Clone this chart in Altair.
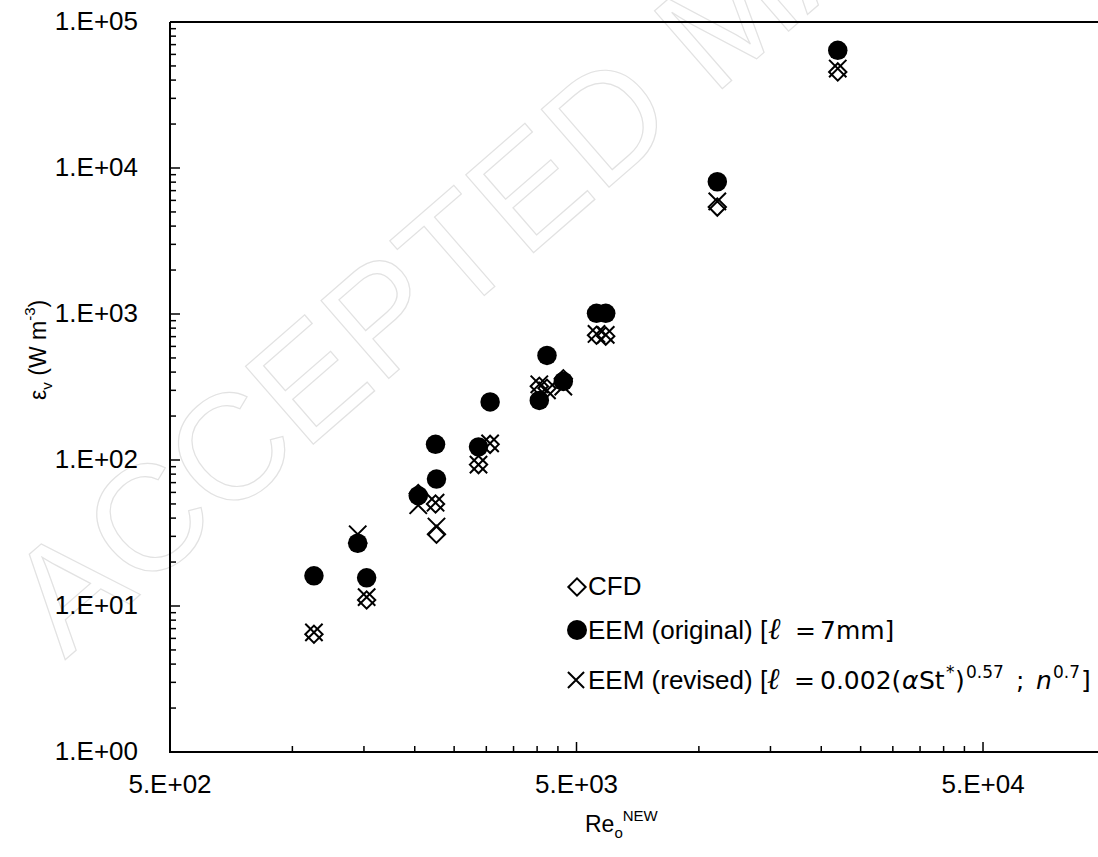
import altair as alt
import pandas as pd

# ---------------- data ----------------
re_values = [1130, 1448, 1523, 2040, 2250, 2262, 2870, 3065, 4050, 4230, 4640, 5600, 5900, 11100, 21960]
eps_cfd   = [6.4, 27, 11.0, 59, 50, 31, 93, 128, 320, 310, 360, 715, 705, 5400, 45500]
eps_orig  = [16.1, 26.9, 15.6, 57, 128, 74, 123, 250, 256, 520, 345, 1010, 1010, 8050, 64000]
eps_rev   = [6.6, 31, 11.5, 49, 51, 35, 93, 130, 330, 300, 318, 730, 720, 5900, 48000]

x_major = [500, 5000, 50000]
x_tick_labels = ["5.E+02", "5.E+03", "5.E+04"]
x_minor = [1000, 1500, 2000, 2500, 3000, 3500, 4000, 4500,
           10000, 15000, 20000, 25000, 30000, 35000, 40000, 45000]
y_major = [1, 10, 100, 1000, 10000, 100000]
y_tick_labels = ["1.E+00", "1.E+01", "1.E+02", "1.E+03", "1.E+04", "1.E+05"]
y_minor = [m * d for d in [1, 10, 100, 1000, 10000] for m in range(2, 10)]

legend_labels = ["CFD", "EEM (original)", "EEM (revised)"]

# ---------------- layout ----------------
W, H = 928, 730
FONT = "Liberation Sans"
MATH = "DejaVu Sans"
BASE = 26
SMALL = 17
XMAX = 95900

df = pd.DataFrame({"re": re_values, "cfd": eps_cfd, "orig": eps_orig, "rev": eps_rev})

xscale = alt.Scale(type="log", domain=[500, XMAX], nice=False, zero=False)
yscale = alt.Scale(type="log", domain=[1, 100000], nice=False, zero=False)

X_PATH = "M-1,-1L1,1M-1,1L1,-1"

base = alt.Chart(df)

circles = base.mark_point(shape="circle", filled=True, size=380, color="black", opacity=1).encode(
    x=alt.X("re:Q", scale=xscale, axis=None),
    y=alt.Y("orig:Q", scale=yscale, axis=None),
)
diamonds = base.mark_point(shape="diamond", filled=False, size=300, color="black",
                           strokeWidth=2, opacity=1).encode(
    x=alt.X("re:Q", scale=xscale, axis=None),
    y=alt.Y("cfd:Q", scale=yscale, axis=None),
)
crosses = base.mark_point(shape=X_PATH, filled=False, size=300, color="black",
                          strokeWidth=2, opacity=1).encode(
    x=alt.X("re:Q", scale=xscale, axis=None),
    y=alt.Y("rev:Q", scale=yscale, axis=None),
)

# axis lines
one = pd.DataFrame({"a": [0]})
x_domain = alt.Chart(one).mark_rule(color="black", strokeWidth=2).encode(
    x=alt.value(-1), x2=alt.value(W), y=alt.value(H))
y_domain = alt.Chart(one).mark_rule(color="black", strokeWidth=2).encode(
    x=alt.value(0), y=alt.value(0), y2=alt.value(H + 1))
top_border = alt.Chart(one).mark_rule(color="black", strokeWidth=2).encode(
    x=alt.value(0), x2=alt.value(W), y=alt.value(0))

# inward ticks
xticks_major = alt.Chart(pd.DataFrame({"v": x_major})).mark_rule(color="black", strokeWidth=1.5).encode(
    x=alt.X("v:Q", scale=xscale, axis=None), y=alt.value(H), y2=alt.value(H - 10))
xticks_minor = alt.Chart(pd.DataFrame({"v": x_minor})).mark_rule(color="black", strokeWidth=1.5).encode(
    x=alt.X("v:Q", scale=xscale, axis=None), y=alt.value(H), y2=alt.value(H - 6))
yticks_major = alt.Chart(pd.DataFrame({"v": y_major})).mark_rule(color="black", strokeWidth=1.5).encode(
    y=alt.Y("v:Q", scale=yscale, axis=None), x=alt.value(0), x2=alt.value(10))
yticks_minor = alt.Chart(pd.DataFrame({"v": y_minor})).mark_rule(color="black", strokeWidth=1.5).encode(
    y=alt.Y("v:Q", scale=yscale, axis=None), x=alt.value(0), x2=alt.value(6))

# tick labels
xlabels = alt.Chart(pd.DataFrame({"v": x_major, "lab": x_tick_labels})).mark_text(
    font=FONT, fontSize=BASE, color="black", align="center", baseline="middle").encode(
    x=alt.X("v:Q", scale=xscale, axis=None), y=alt.value(H + 33), text="lab:N")
ylabels = alt.Chart(pd.DataFrame({"v": y_major, "lab": y_tick_labels})).mark_text(
    font=FONT, fontSize=BASE, color="black", align="right", baseline="middle").encode(
    y=alt.Y("v:Q", scale=yscale, axis=None), x=alt.value(-32), text="lab:N")

# ---------------- text helpers ----------------
ARIAL = {' ': 278, '(': 333, ')': 333, '*': 389, '+': 584, '-': 333, '.': 278, ';': 278, '=': 584,
         '[': 278, ']': 278, 'ℓ': 420, 'α': 580, 'ε': 450}
for c in "0123456789":
    ARIAL[c] = 556
ARIAL.update({'A': 667, 'C': 722, 'D': 722, 'E': 667, 'F': 611, 'M': 833, 'N': 722, 'R': 722, 'S': 667, 'W': 944,
              'a': 556, 'd': 556, 'e': 556, 'g': 556, 'i': 222, 'l': 222, 'm': 833, 'n': 556, 'o': 556,
              'r': 333, 's': 500, 't': 278, 'v': 500})


def tw(s, size):
    return sum(ARIAL.get(c, 556) for c in s) / 1000.0 * size


def text_layer(t, x, y, size, italic=False, angle=0, color="black", align="left", baseline="alphabetic",
               font=FONT):
    kw = dict(font=font, fontSize=size, color=color, align=align, baseline=baseline, angle=angle)
    if italic:
        kw["fontStyle"] = "italic"
    return alt.Chart(pd.DataFrame({"t": [t]})).mark_text(**kw).encode(
        text="t:N", x=alt.value(x), y=alt.value(y))


def run(pieces, x0, y0, size=BASE, small=SMALL, sup=11, sub=6):
    """horizontal rich text; pieces: (text, kind) sequentially laid out"""
    layers = []
    x = x0
    for t, kind in pieces:
        sz = small if kind in ("sup", "sub") else size
        dy = -sup if kind == "sup" else (sub if kind == "sub" else 0)
        lead = len(t) - len(t.lstrip(" "))
        x += tw(" " * lead, sz)
        s = t.lstrip(" ")
        layers.append(text_layer(s, x, y0 + dy, sz, italic=(kind == "it")))
        x += tw(s, sz)
    return layers


def placed(pieces, y0, sup=11):
    """pieces placed at measured page x: (text, kind, page_x, font, size)"""
    layers = []
    for t, kind, px, font, sz in pieces:
        dy = -sup if kind == "sup" else 0
        layers.append(text_layer(t, px - 170, y0 + dy, sz, italic=(kind == "it"), font=font))
    return layers


def run_vertical(pieces, xb, y0, size=BASE, small=SMALL, sup=11, sub=6):
    layers = []
    y = y0
    for t, kind in pieces:
        sz = small if kind in ("sup", "sub") else size
        dx = -sup if kind == "sup" else (sub if kind == "sub" else 0)
        lead = len(t) - len(t.lstrip(" "))
        y -= tw(" " * lead, sz)
        s = t.lstrip(" ")
        layers.append(text_layer(s, xb + dx, y, sz, italic=(kind == "it"), angle=270))
        y -= tw(s, sz)
    return layers


# legend (inside plot, pixel coordinates relative to plot origin)
L_X = 588 - 170
rows_y = [595 - 22, 639 - 22, 689 - 22]
sym_x = 577 - 170
leg_sym = [
    alt.Chart(one).mark_point(shape="diamond", filled=False, size=300, color="black",
                              strokeWidth=2, opacity=1).encode(
        x=alt.value(sym_x), y=alt.value(rows_y[0] - 8)),
    alt.Chart(one).mark_point(shape="circle", filled=True, size=400, color="black",
                              opacity=1).encode(
        x=alt.value(sym_x), y=alt.value(rows_y[1] - 9)),
    alt.Chart(one).mark_point(shape=X_PATH, filled=False, size=260, color="black",
                              strokeWidth=2, opacity=1).encode(
        x=alt.value(sym_x - 1), y=alt.value(rows_y[2] - 9)),
]
SERIF = "Liberation Serif"
leg_text = []
leg_text += run([(legend_labels[0], "n")], L_X, rows_y[0])
leg_text += run([(legend_labels[1] + " [", "n")], L_X, rows_y[1])
leg_text += placed([("ℓ", "it", 768, SERIF, 30), ("=", "n", 795, MATH, 25), ("7mm]", "n", 820, MATH, 25)],
                   rows_y[1])
leg_text += run([(legend_labels[2] + " [", "n")], L_X, rows_y[2])
leg_text += placed([("ℓ", "it", 767, SERIF, 30), ("=", "n", 794, MATH, 25), ("0.002(", "n", 820, MATH, 25),
                    ("α", "it", 902, MATH, 25), ("St", "n", 919, MATH, 25), ("*", "sup", 946, MATH, 17),
                    (")", "n", 955, MATH, 25), ("0.57", "sup", 966, MATH, 17), (";", "n", 1016, MATH, 25),
                    ("n", "it", 1036, MATH, 25), ("0.7", "sup", 1053, MATH, 17), ("]", "n", 1081, MATH, 25)],
                   rows_y[2])

# axis titles
x_title = run([("Re", "n"), ("o", "sub"), ("NEW", "sup")], 585 - 170, 832 - 22, size=23, small=15)
y_title = run_vertical([("ε", "n"), ("v", "sub"), (" (W m", "n"), ("-3", "sup"), (")", "n")],
                       46 - 170, 400 - 22, size=23, small=15)

# faint watermark
watermark = alt.Chart(pd.DataFrame({"t": ["ACCEPTED MANUSCRIPT"]})).mark_text(
    font=FONT, fontSize=150, angle=319, align="left", baseline="alphabetic",
    fill="white", fillOpacity=0, stroke="#e2e2e2", strokeWidth=1.2).encode(
    text="t:N", x=alt.value(65 - 170), y=alt.value(660 - 22))

layers = [watermark, circles, diamonds, crosses, x_domain, y_domain, top_border,
          xticks_major, xticks_minor, yticks_major, yticks_minor, xlabels, ylabels] \
    + leg_sym + leg_text + x_title + y_title

chart = alt.layer(*layers).properties(
    width=W, height=H,
    autosize=alt.AutoSizeParams(type="none"),
    padding={"left": 170, "top": 22, "right": 0, "bottom": 105},
).configure_view(stroke=None).configure(background="white")

chart.save("out.html", embed_options={"renderer": "svg", "actions": False})
